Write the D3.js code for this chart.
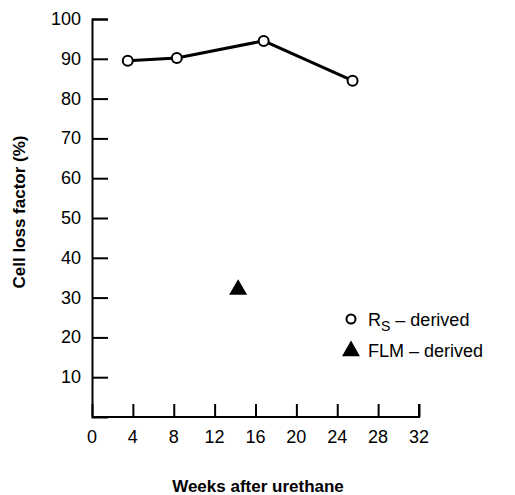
<!DOCTYPE html>
<html><head><meta charset="utf-8">
<script src="https://cdn.jsdelivr.net/npm/d3@7"></script>
<style>body{margin:0;background:#fff}text{font-family:"Liberation Sans",Arial,sans-serif}</style>
</head><body><div id="chart"></div>
<script>
var weeks = [3.5, 8.3, 16.8, 25.5];
var rsValues = [89.5, 90.2, 94.5, 84.5];
var flmWeeks = [14.3];
var flmValues = [32];
var xTicks = [0, 4, 8, 12, 16, 20, 24, 28, 32];
var yTicks = [10, 20, 30, 40, 50, 60, 70, 80, 90, 100];

var svg = d3.select('#chart').append('svg').attr('width', 515).attr('height', 495);
var x = d3.scaleLinear().domain([0, 32]).range([92, 419]);
var y = d3.scaleLinear().domain([0, 100]).range([417, 19]);

var xAxis = svg.append('g').attr('transform', 'translate(0,417)')
    .call(d3.axisTop(x).tickValues(xTicks).tickSize(13).tickFormat(''));
var yAxis = svg.append('g').attr('transform', 'translate(92,0)')
    .call(d3.axisRight(y).tickValues(yTicks).tickSize(16).tickFormat(''));
[xAxis, yAxis].forEach(function (a) {
  a.select('.domain').attr('stroke-width', 2);
  a.selectAll('.tick line').attr('stroke-width', 2);
});
xAxis.select('.domain').attr('d', 'M92,0H419V-13');

svg.selectAll('.xl').data(xTicks).enter().append('text')
  .attr('x', function (d) { return x(d); }).attr('y', 443)
  .attr('text-anchor', 'middle').attr('font-size', 18).text(function (d) { return d; });
svg.selectAll('.yl').data(yTicks).enter().append('text')
  .attr('x', 81).attr('y', function (d) { return y(d) + 6; })
  .attr('text-anchor', 'end').attr('font-size', 18).text(function (d) { return d; });

var pts = weeks.map(function (w, i) { return [w, rsValues[i]]; });
svg.append('path').attr('d', d3.line().x(function (d) { return x(d[0]); }).y(function (d) { return y(d[1]); })(pts))
  .attr('fill', 'none').attr('stroke', '#000').attr('stroke-width', 3);
svg.selectAll('.pt').data(pts).enter().append('circle')
  .attr('cx', function (d) { return x(d[0]); }).attr('cy', function (d) { return y(d[1]); })
  .attr('r', 5).attr('fill', '#fff').attr('stroke', '#000').attr('stroke-width', 2);

var tri = d3.symbol().type(d3.symbolTriangle).size(140);
svg.selectAll('.tri').data(flmWeeks).enter().append('path')
  .attr('d', tri).attr('transform', function (d, i) { return 'translate(' + x(d) + ',' + y(flmValues[i]) + ')'; });

svg.append('circle').attr('cx', 351).attr('cy', 319).attr('r', 4.5)
  .attr('fill', '#fff').attr('stroke', '#000').attr('stroke-width', 2);
var lt = svg.append('text').attr('x', 368).attr('y', 326).attr('font-size', 18);
lt.append('tspan').text('R');
lt.append('tspan').attr('dy', 5).attr('font-size', 14).text('S');
lt.append('tspan').attr('dy', -5).text(' \u2013 derived');
svg.append('path').attr('d', tri).attr('transform', 'translate(351,351)');
svg.append('text').attr('x', 368).attr('y', 357).attr('font-size', 18).text('FLM \u2013 derived');

svg.append('text').attr('x', 258).attr('y', 492).attr('text-anchor', 'middle')
  .attr('font-size', 17).attr('font-weight', 'bold').text('Weeks after urethane');
svg.append('text').attr('transform', 'translate(25,212) rotate(-90)').attr('text-anchor', 'middle')
  .attr('font-size', 17).attr('font-weight', 'bold').text('Cell loss factor (%)');
</script></body></html>
